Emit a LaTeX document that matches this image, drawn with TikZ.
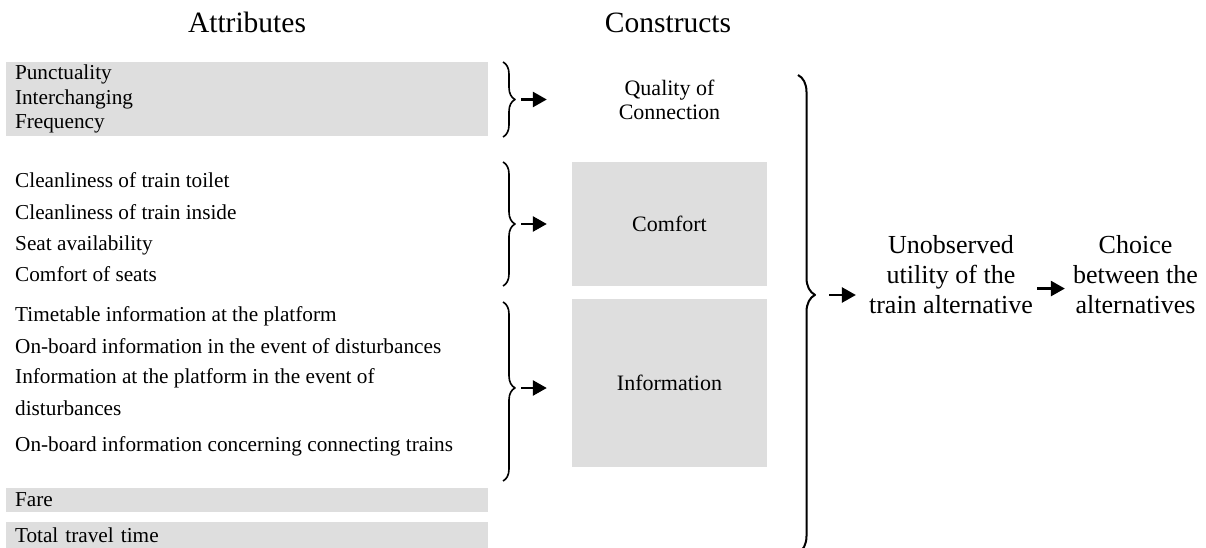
\documentclass[tikz,border=0pt]{standalone}
\usepackage{fontspec}
\setmainfont{Liberation Serif}
\usetikzlibrary{arrows.meta,decorations.pathreplacing,calc}
\definecolor{boxgray}{RGB}{222,222,222}
\tikzset{
  title/.style={anchor=base, inner sep=0pt, font=\fontsize{29.5}{34}\selectfont},
  attr/.style={anchor=base west, inner sep=0pt, font=\fontsize{21.25}{32}\selectfont},
  attrbox/.style={fill=boxgray, inner xsep=9pt, inner ysep=0pt, text width=464pt, align=left,
    minimum height=#1, font=\fontsize{21.25}{24.5}\selectfont},
  construct/.style={fill=boxgray, inner sep=0pt, minimum width=195pt, align=center,
    font=\fontsize{22}{24}\selectfont},
  result/.style={anchor=north, inner sep=0pt, align=center, font=\fontsize{26}{30}\selectfont},
  grp/.style={decorate, decoration={brace, amplitude=12pt}, line width=1.6pt},
  conn/.style={-{Triangle[length=14pt,width=15pt]}, line width=2.6pt},
}
\begin{document}
\begin{tikzpicture}[x=1pt, y=-1pt, line join=round]
	\useasboundingbox (0,0) rectangle (1206,548);
	\node[title] (attrtitle) at (247,33) {Attributes};
	\node[title] (constitle) at (668,33) {Constructs};
	% attributes
	\node[attrbox=74pt] (connbox) at (247,99) {Punctuality\\Interchanging\\Frequency};
	\node[attr] (toilet) at (15,187) {Cleanliness of train toilet};
	\node[attr] (inside) at (15,219) {Cleanliness of train inside};
	\node[attr] (seat) at (15,250) {Seat availability};
	\node[attr] (seats) at (15,281) {Comfort of seats};
	\node[attr] (timetable) at (15,321) {Timetable information at the platform};
	\node[attr] (onboard) at (15,353) {On-board information in the event of disturbances};
	\node[attr, anchor=north west, align=left] (platform) at (15,368.5)
		{Information at the platform in the event of\\disturbances};
	\node[attr] (trains) at (15,451) {On-board information concerning connecting trains};
	\node[attrbox=24pt] (fare) at (247,500) {Fare};
	\node[attrbox=26pt] (time) at (247,535) {Total travel time};
	% constructs
	\node[construct, fill=none] (quality) at (669.5,99.5) {Quality of\\Connection};
	\node[construct, minimum height=124pt] (comfort) at (669.5,224) {Comfort};
	\node[construct, minimum height=168pt] (info) at (669.5,383) {Information};
	\draw[grp] (503,62) -- (503,137);
	\draw[grp] (503,162) -- (503,286);
	\draw[grp, decoration={aspect=0.48}] (503,302) -- (503,481);
	\coordinate (tip1) at (515,99.5);
	\coordinate (tip2) at (515,224);
	\coordinate (tip3) at (515,388);
	\foreach \t/\c in {tip1/quality, tip2/comfort, tip3/info}
		\draw[conn, shorten <=6pt, shorten >=25pt] (\t) -- (\t -| \c.west);
	% utility and choice
	\draw[grp, decoration={amplitude=17pt, aspect=0.46}, line width=2pt] (798,75) -- (798,553);
	\coordinate (bigtip) at (815,295);
	\node[result] (utility) at (951,235.2) {Unobserved\\utility of the\\train alternative};
	\node[result] (choice) at (1135.5,235.2) {Choice\\between the\\alternatives};
	\coordinate (uend) at ($(utility.east)+(0,14)$);
	\draw[conn, shorten <=14pt, shorten >=13pt] (bigtip) -- (bigtip -| utility.west);
	\draw[conn, shorten <=4pt, shorten >=8pt] (uend) -- (uend -| choice.west);
\end{tikzpicture}
\end{document}
